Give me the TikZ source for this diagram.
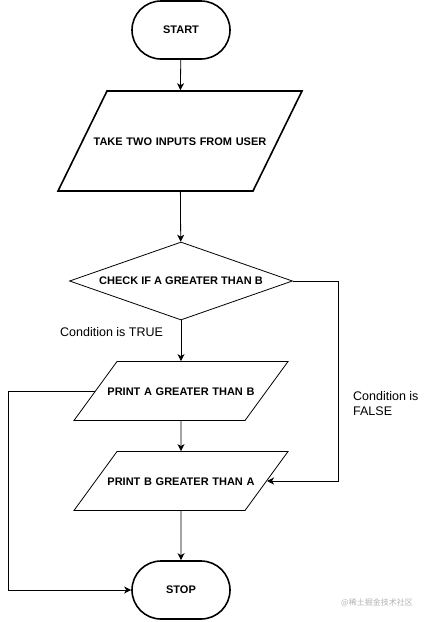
\documentclass[tikz,border=0pt]{standalone}
\usepackage{fontspec}
\setmainfont{Liberation Sans}
\newfontfamily\cjk{Noto Sans CJK SC}
\usepackage{tikz}
\usetikzlibrary{shapes.geometric, arrows.meta}
\tikzstyle{terminal} = [
    rectangle,
    rounded corners=29pt,
    minimum width=98pt,
    minimum height=58pt,
    draw=black,
    line width=1.6pt,
    font=\fontsize{11}{13}\selectfont\bfseries
]
\tikzstyle{io} = [
    trapezium,
    align=center,
    text height=8pt,
    text depth=0pt,
    draw=black,
    line width=0.8pt,
    font=\fontsize{11}{13}\selectfont\bfseries
]
\tikzstyle{decision} = [
    diamond,
    aspect=2.86,
    inner sep=1pt,
    minimum width=223pt,
    minimum height=78pt,
    draw=black,
    line width=0.8pt,
    font=\fontsize{11}{13}\selectfont\bfseries
]
\tikzstyle{note} = [
    font=\fontsize{12.5}{15}\selectfont,
    inner sep=0pt
]
\tikzstyle{arrow} = [
    line width=0.8pt,
    -{Stealth[length=7pt, width=7pt, inset=2pt]},
    color=black
]

\begin{document}
\begin{tikzpicture}[x=1pt, y=-1pt]
        \useasboundingbox (0,0) rectangle (432,622);
        % Steps
        \node[terminal] (start) at (181,30) {START};
        \node[io, line width=1.6pt, trapezium left angle=63.9, trapezium right angle=116.1,
              text width=185pt, inner xsep=-19.5pt, inner ysep=46pt] (input) at (180,141) {TAKE TWO INPUTS FROM USER};
        \node[decision] (check) at (181,281) {CHECK IF A GREATER THAN B};
        \node[io, trapezium left angle=53.9, trapezium right angle=126.1,
              text width=161pt, inner xsep=-16.5pt, inner ysep=25.5pt] (printa) at (181,391) {PRINT A GREATER THAN B};
        \node[io, trapezium left angle=53.9, trapezium right angle=126.1,
              text width=161pt, inner xsep=-16.5pt, inner ysep=25.5pt] (printb) at (181,481) {PRINT B GREATER THAN A};
        \node[terminal] (stop) at (181,590) {STOP};

        % Rails
        \coordinate (leftrail) at (8,590);
        \coordinate (rightrail) at (338,281);

        % Arrows
        \draw[arrow] (start) -- (input);
        \draw[arrow] (input) -- (check);
        \draw[arrow] (check) -- (printa);
        \draw[arrow] (printa) -- (printb);
        \draw[arrow] (printb) -- (stop);
        \draw[arrow] (printa.west) -| (leftrail) -- (stop.west);
        \draw[arrow] (check.east) -- (rightrail) |- (printb.east);

        % Labels
        \node[note, anchor=west] (truelbl) at (60,332) {Condition is TRUE};
        \node[note, anchor=north west, align=left] (falselbl) at (353,391) {Condition is\\FALSE};
        \node[font=\cjk\fontsize{8}{9}\selectfont, text=gray!60] (mark) at (377,603) {@稀土掘金技术社区};
    \end{tikzpicture}
\end{document}
